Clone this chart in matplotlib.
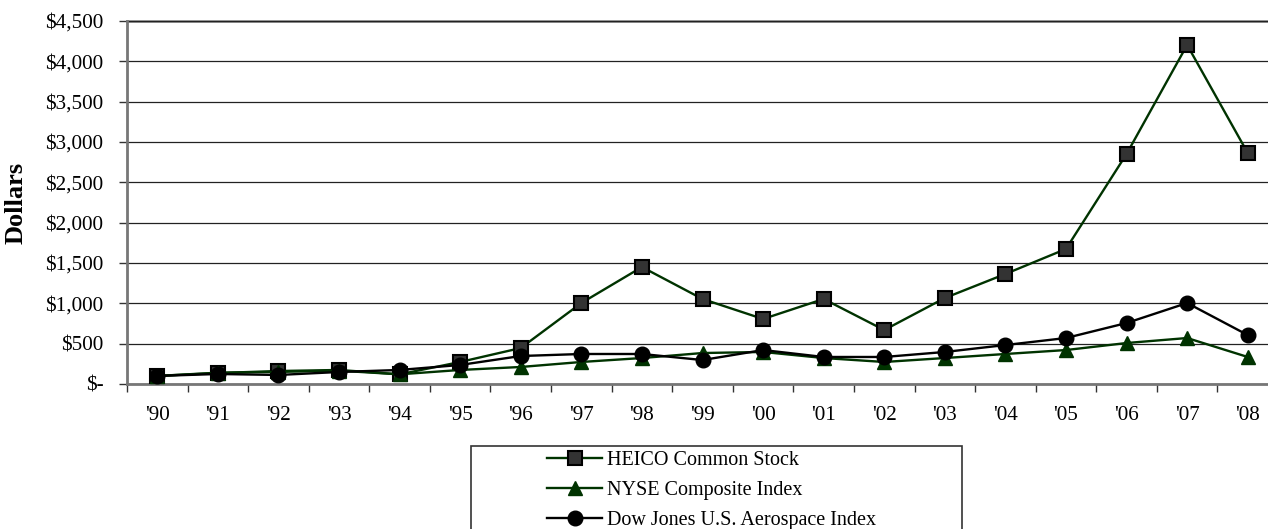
import matplotlib
matplotlib.use('Agg')
from matplotlib import pyplot as plt
from matplotlib.patches import Rectangle
from matplotlib.ticker import FuncFormatter
import numpy as np

plt.rcParams['font.family'] = ['Liberation Serif', 'DejaVu Serif']

years = ["'90", "'91", "'92", "'93", "'94", "'95", "'96", "'97", "'98", "'99",
         "'00", "'01", "'02", "'03", "'04", "'05", "'06", "'07", "'08"]
heico = [100, 136, 161, 174, 120, 273, 446, 1004, 1450, 1054,
         806, 1054, 669, 1066, 1364, 1674, 2851, 4203, 2864]
nyse = [100, 140, 150, 165, 120, 174, 211, 273, 322, 384,
        397, 322, 273, 322, 372, 421, 508, 570, 335]
dow = [100, 124, 112, 149, 174, 236, 347, 372, 372, 297,
       421, 335, 335, 397, 483, 570, 756, 1004, 607]

W, H = 1268, 529
fig = plt.figure(figsize=(W / 100, H / 100), dpi=100)
ax = fig.add_axes([127 / W, (H - 384) / H, 1151 / W, 363 / H])

x = np.arange(len(years))
green = '#003300'

ax.plot(x, heico, color=green, lw=1.7, marker='s', markersize=9.5,
        markerfacecolor='#333333', markeredgecolor='black', markeredgewidth=1.5,
        label='HEICO Common Stock', zorder=3)
ax.plot(x, nyse, color=green, lw=1.7, marker='^', markersize=10.5,
        markerfacecolor=green, markeredgecolor=green,
        label='NYSE Composite Index', zorder=4)
ax.plot(x, dow, color='black', lw=1.7, marker='o', markersize=10.5,
        markerfacecolor='black', markeredgecolor='black',
        label='Dow Jones U.S. Aerospace Index', zorder=5)

ax.set_xlim(-0.5, len(years) - 0.5)
ax.set_ylim(0, 4500)
ax.set_yticks(np.arange(0, 4501, 500))
ax.yaxis.set_major_formatter(FuncFormatter(lambda v, p: '$-' if v == 0 else '${:,.0f}'.format(v)))
ax.grid(axis='y', color='#222222', lw=0.9, zorder=0)

ax.set_xticks(x)
ax.set_xticklabels(years)
ax.set_xticks(np.arange(-0.5, len(years)), minor=True)
ax.tick_params(axis='x', which='major', length=0, pad=16, labelsize=15.2)
ax.tick_params(axis='x', which='minor', length=6, width=1, color='#333333')
ax.tick_params(axis='y', length=6, width=1, color='#333333', pad=11, labelsize=15.2)

for s in ['top', 'right']:
    ax.spines[s].set_visible(False)
ax.axhline(4500, color='#888888', lw=2, zorder=1, clip_on=False)
ax.spines['left'].set_color('#777777')
ax.spines['left'].set_linewidth(2)
ax.spines['bottom'].set_color('#777777')
ax.spines['bottom'].set_linewidth(2)

ax.set_ylabel('Dollars', fontsize=19, fontweight='bold')
ax.yaxis.set_label_coords(-99 / 1151, 0.5)

fig.patches.append(Rectangle((471 / W, -0.05), (962 - 471) / W, (H - 446) / H + 0.05,
                             transform=fig.transFigure, fill=False,
                             edgecolor='#333333', lw=1.2))
fig.legend(loc='upper left', bbox_to_anchor=(547 / W, (H - 451) / H),
           frameon=False, fontsize=14.5, handlelength=2.75, handletextpad=0.25,
           labelspacing=0.55, borderpad=0, borderaxespad=0)

plt.savefig('out.png', dpi=100)
